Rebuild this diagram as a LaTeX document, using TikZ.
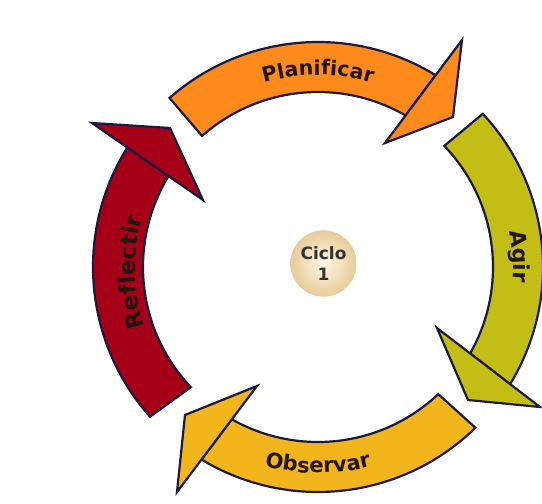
\documentclass[tikz,border=0pt]{standalone}
\usepackage{fontspec}
\setmainfont{Liberation Sans}
\newfontfamily\centrefont{DejaVu Sans}
\newfontfamily\bandfamily{DejaVu Sans}[LetterSpace=3]
\usetikzlibrary{decorations.text}

\definecolor{planorange}{HTML}{FF8A1C}
\definecolor{agirolive}{HTML}{C3BE16}
\definecolor{obsgold}{HTML}{F2B51C}
\definecolor{reflred}{HTML}{A60019}
\definecolor{edgenavy}{HTML}{1C1A3C}
\definecolor{labelink}{HTML}{22160F}
\definecolor{discin}{HTML}{FFF7E6}
\definecolor{discout}{HTML}{E8CB98}

\newcommand{\bandfont}[1]{\bandfamily\bfseries\fontsize{#1}{#1}\selectfont}

\begin{document}
\begin{tikzpicture}[x=1pt, y=1pt,
    band/.style={draw=edgenavy, line width=2.2pt},
    bandlabel/.style args={#1/#2}{decorate, decoration={text along path, text align=center,
        text color=labelink, text={|\bandfont{#2}|#1}}}]
  \useasboundingbox (-318,-237) rectangle (224,267);

  % Planificar
  \draw[band, fill=planorange] (131.3:225pt) arc[start angle=131.3, end angle=58.5, radius=225pt]
    -- (60:175pt) arc[start angle=60, end angle=131.5, radius=175pt] -- cycle;
  \draw[band, fill=planorange] (144,227) -- (135,150) -- (67,124) -- cycle;
  \path[bandlabel=Planificar/20.5] (135:192pt) arc[start angle=135, end angle=45, radius=192pt];

  % Agir
  \draw[band, fill=agirolive] (42.9:225pt) arc[start angle=42.9, end angle=-31.4, radius=225pt]
    -- (-29.6:175pt) arc[start angle=-29.6, end angle=43.8, radius=175pt] -- cycle;
  \draw[band, fill=agirolive] (119,-61) -- (150,-133) -- (222,-140) -- cycle;
  \path[bandlabel=Agir/22] (30:195pt) arc[start angle=30, end angle=-24, radius=195pt];

  % Observar
  \draw[band, fill=obsgold] (-45.6:225pt) arc[start angle=-45.6, end angle=-121.2, radius=225pt]
    -- (-119.5:175pt) arc[start angle=-119.5, end angle=-46.6, radius=175pt] -- cycle;
  \draw[band, fill=obsgold] (-61,-119) -- (-133,-148) -- (-141,-225) -- cycle;
  \path[bandlabel=Observar/21] (-135:206pt) arc[start angle=-135, end angle=-45, radius=206pt];

  % Reflectir
  \draw[band, fill=reflred] (221.7:225pt) arc[start angle=221.7, end angle=147.9, radius=225pt]
    -- (148.7:175pt) arc[start angle=148.7, end angle=223.4, radius=175pt] -- cycle;
  \draw[band, fill=reflred] (-226,144) -- (-148,139) -- (-115,67) -- cycle;
  \path[bandlabel=Reflectir/23] (221.5:183pt) arc[start angle=221.5, end angle=141.5, radius=183pt];

  % centre
  \node[circle, minimum size=56pt, inner color=discin, outer color=discout,
        align=center, text=black!80, font=\centrefont\bfseries\fontsize{17}{21}\selectfont]
        (ciclo) at (5.5,3.5) {Ciclo\\1};
\end{tikzpicture}
\end{document}
